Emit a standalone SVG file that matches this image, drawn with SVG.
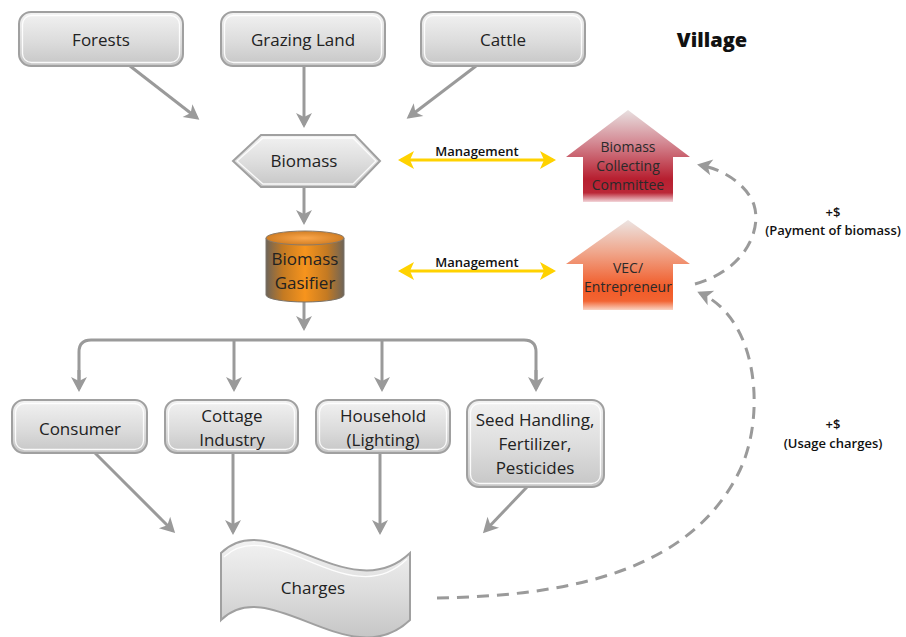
<svg xmlns="http://www.w3.org/2000/svg" width="906" height="637" viewBox="0 0 906 637">
<defs>
<linearGradient id="gbox" x1="0" y1="0" x2="0" y2="1">
<stop offset="0" stop-color="#f2f2f2"/>
<stop offset="0.55" stop-color="#dcdcdc"/>
<stop offset="1" stop-color="#c6c6c6"/>
</linearGradient>
<linearGradient id="gred" x1="0" y1="0" x2="0" y2="1">
<stop offset="0" stop-color="#e8e0e0"/>
<stop offset="0.35" stop-color="#d48a94"/>
<stop offset="0.75" stop-color="#b71f30"/>
<stop offset="0.9" stop-color="#bb2838"/>
<stop offset="1" stop-color="#f3d6da"/>
</linearGradient>
<linearGradient id="gorange" x1="0" y1="0" x2="0" y2="1">
<stop offset="0" stop-color="#ece4e2"/>
<stop offset="0.35" stop-color="#f0a88e"/>
<stop offset="0.75" stop-color="#f15a27"/>
<stop offset="0.9" stop-color="#f26432"/>
<stop offset="1" stop-color="#fad4c4"/>
</linearGradient>
<linearGradient id="gcyl" x1="0" y1="0" x2="1" y2="0">
<stop offset="0" stop-color="#6e6458"/>
<stop offset="0.22" stop-color="#c47a22"/>
<stop offset="0.5" stop-color="#f7941d"/>
<stop offset="0.78" stop-color="#c47a22"/>
<stop offset="1" stop-color="#6e6458"/>
</linearGradient>
<radialGradient id="gcyltop" cx="0.5" cy="0.5" r="0.6">
<stop offset="0" stop-color="#fba64a"/>
<stop offset="1" stop-color="#c9761c"/>
</radialGradient>
<marker id="ah" viewBox="-13 -9 17 18" refX="0" refY="0" markerWidth="17" markerHeight="18" markerUnits="userSpaceOnUse" orient="auto">
<path d="M3,0 L-12,-8 L-8,0 L-12,8 Z" fill="#9a9a9a"/>
</marker>
<marker id="ay" viewBox="-13 -10 17 20" refX="0" refY="0" markerWidth="17" markerHeight="20" markerUnits="userSpaceOnUse" orient="auto-start-reverse">
<path d="M3,0 L-13,-9 L-9,0 L-13,9 Z" fill="#ffd200"/>
</marker>
<style>
.box{fill:url(#gbox);stroke:#a0a0a0;stroke-width:2}
.inner{fill:none;stroke:#ffffff;stroke-width:1.3;opacity:0.9}
.t{font-family:"Open Sans","Liberation Sans",sans-serif;font-size:17px;fill:#222;text-anchor:middle}
.ht{font-family:"Open Sans","Liberation Sans",sans-serif;font-size:14px;fill:#2a2a2a;text-anchor:middle}
.s{font-family:"Open Sans","Liberation Sans",sans-serif;font-size:13px;font-weight:600;fill:#111;text-anchor:middle}
.con{fill:none;stroke:#9a9a9a;stroke-width:3;marker-end:url(#ah)}
.dash{fill:none;stroke:#9a9a9a;stroke-width:3;stroke-dasharray:12 8;marker-end:url(#ah)}
.yel{fill:none;stroke:#ffd200;stroke-width:3;marker-start:url(#ay);marker-end:url(#ay)}
</style>
</defs>
<rect width="906" height="637" fill="#ffffff"/>

<g id="connectors">
<path class="con" d="M130,66 L197,118"/>
<path class="con" d="M304,66 L304,125"/>
<path class="con" d="M476,66 L409,117"/>
<path class="con" d="M304,187 L304,222"/>
<path class="con" d="M304,302 L304,328"/>
<path fill="none" stroke="#9a9a9a" stroke-width="3" d="M79,388 V352 Q79,340 91,340 H524 Q536,340 536,352 V388"/>
<path class="con" d="M79,370 L79,389"/>
<path class="con" d="M234,340 L234,389"/>
<path class="con" d="M382,340 L382,389"/>
<path class="con" d="M536,370 L536,389"/>
<path class="con" d="M95,453 L173,531"/>
<path class="con" d="M233,453 L233,532"/>
<path class="con" d="M380,453 L380,532"/>
<path class="con" d="M527,487 L485,531"/>
<path class="yel" d="M401,160 L553,160"/>
<path class="yel" d="M401,271 L553,271"/>
<path class="dash" d="M695,284 C745,270 762,230 754,205 C747,185 725,170 700,165"/>
<path class="dash" d="M437,598 C560,596 690,575 740,470 C765,418 760,320 700,293"/>
</g>

<g id="forests">
<rect class="box" x="19" y="12" width="164" height="54" rx="12"/>
<rect class="inner" x="22.5" y="15.5" width="157" height="47" rx="9"/>
<text class="t" x="101" y="46">Forests</text>
</g>
<g id="grazing">
<rect class="box" x="221" y="12" width="164" height="54" rx="12"/>
<rect class="inner" x="224.5" y="15.5" width="157" height="47" rx="9"/>
<text class="t" x="303" y="46">Grazing Land</text>
</g>
<g id="cattle">
<rect class="box" x="421" y="12" width="164" height="54" rx="12"/>
<rect class="inner" x="424.5" y="15.5" width="157" height="47" rx="9"/>
<text class="t" x="503" y="46">Cattle</text>
</g>
<g id="village">
<text x="712" y="47" font-family="'Open Sans','Liberation Sans',sans-serif" font-size="20" font-weight="800" fill="#111" text-anchor="middle">Village</text>
</g>

<g id="biomass">
<path class="box" d="M233,161 L261,135 L355,135 L380,161 L355,187 L261,187 Z"/>
<path class="inner" d="M237,161 L263,138 L353,138 L376,161 L353,184 L263,184 Z"/>
<text class="t" x="304" y="167">Biomass</text>
</g>

<g id="gasifier">
<path d="M266,238 L266,295 A39,7 0 0 0 344,295 L344,238 Z" fill="url(#gcyl)" stroke="#7a7268" stroke-width="1"/>
<ellipse cx="305" cy="238" rx="39" ry="7" fill="url(#gcyltop)" stroke="#8a7a68" stroke-width="1"/>
<text class="t" x="305" y="265">Biomass</text>
<text class="t" x="305" y="289">Gasifier</text>
</g>

<g id="committee">
<path d="M628,110 L690,157 L673,157 L673,202 L583,202 L583,157 L566,157 Z" fill="url(#gred)"/>
<text class="ht" x="628" y="152">Biomass</text>
<text class="ht" x="628" y="171">Collecting</text>
<text class="ht" x="628" y="190">Committee</text>
</g>

<g id="vec">
<path d="M628,220 L690,264 L673,264 L673,310 L583,310 L583,264 L566,264 Z" fill="url(#gorange)"/>
<text class="ht" x="628" y="273">VEC/</text>
<text class="ht" x="628" y="292">Entrepreneur</text>
</g>

<g id="labels">
<text class="s" x="477" y="156">Management</text>
<text class="s" x="477" y="267">Management</text>
<text class="s" x="833" y="217">+$</text>
<text class="s" x="833" y="235">(Payment of biomass)</text>
<text class="s" x="833" y="429">+$</text>
<text class="s" x="833" y="448">(Usage charges)</text>
</g>

<g id="consumer">
<rect class="box" x="12" y="400" width="135" height="53" rx="12"/>
<rect class="inner" x="15.5" y="403.5" width="128" height="46" rx="9"/>
<text class="t" x="80" y="435">Consumer</text>
</g>
<g id="cottage">
<rect class="box" x="165" y="400" width="133" height="53" rx="12"/>
<rect class="inner" x="168.5" y="403.5" width="126" height="46" rx="9"/>
<text class="t" x="232" y="422">Cottage</text>
<text class="t" x="232" y="446">Industry</text>
</g>
<g id="household">
<rect class="box" x="316" y="400" width="134" height="53" rx="12"/>
<rect class="inner" x="319.5" y="403.5" width="127" height="46" rx="9"/>
<text class="t" x="383" y="422">Household</text>
<text class="t" x="383" y="446">(Lighting)</text>
</g>
<g id="seed">
<rect class="box" x="467" y="400" width="137" height="87" rx="12"/>
<rect class="inner" x="470.5" y="403.5" width="130" height="80" rx="9"/>
<text class="t" x="535" y="426">Seed Handling,</text>
<text class="t" x="535" y="450">Fertilizer,</text>
<text class="t" x="535" y="474">Pesticides</text>
</g>

<g id="charges">
<path class="box" d="M221,553 C270,505 350,610 410,553 L410,620 C350,677 270,572 221,620 Z"/>
<path class="inner" d="M224,557 C272,512 350,616 407,559"/>
<text class="t" x="313" y="594">Charges</text>
</g>
</svg>
